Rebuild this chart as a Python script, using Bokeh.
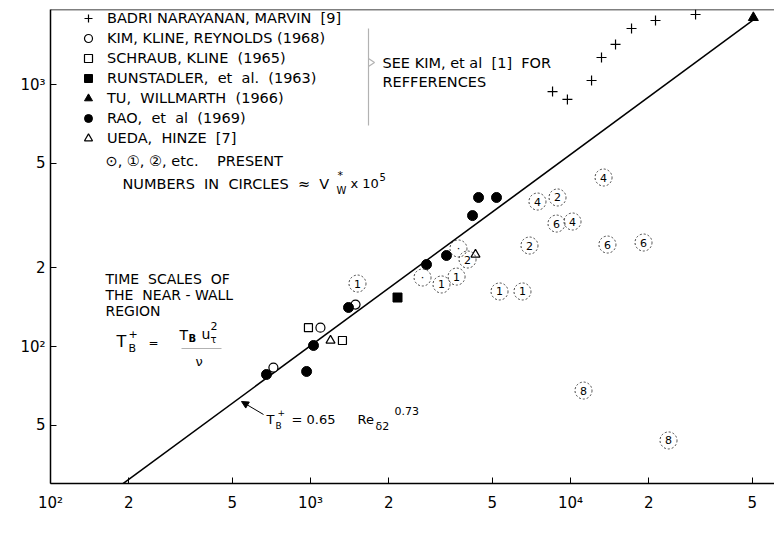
import math
from bokeh.plotting import figure
from bokeh.models import (Range1d, FixedTicker, Label, Legend, LegendItem, Span,
                          Arrow, NormalHead, ColumnDataSource, PolyAnnotation)
from bokeh.core.properties import value
from bokeh.embed import file_html
from bokeh.resources import INLINE

# ---------------- data (Re_delta2, T_B+) ----------------
badri_re = [8530, 9730, 12050, 13160, 14900, 17170, 21230, 30270]
badri_t = [940, 877, 1036, 1268, 1422, 1636, 1755, 1850]
kim_re = [720, 1092, 1490]
kim_t = [83.1, 118, 144.6]
schraub_re = [982, 1327]
schraub_t = [118, 105.4]
runst_re = [2161]
runst_t = [153.8]
tu_re = [50500]
tu_t = [1800]
rao_re = [677, 966, 1027, 1400, 2794, 3334, 4199, 4429, 5193]
rao_t = [78.2, 80.3, 100.9, 140.9, 205.6, 222.5, 316, 370.5, 370.5]
ueda_re = [1194, 4311]
ueda_t = [105.4, 224.4]
present_re = [1516, 2697, 3190, 3646, 3707, 4018, 5333, 6535, 6953, 7464,
              8913, 8833, 10180, 13400, 13870, 19090, 11220, 23820]
present_t = [173.9, 183.4, 172.5, 184.9, 236.6, 214.8, 162.2, 162.2, 242.9, 357.5,
             370.5, 294.6, 300, 441.6, 245, 249.4, 67.9, 43.8]
present_vw = ["1", "·", "1", "1", "·", "2", "1", "1", "2", "4",
              "2", "6", "4", "4", "6", "6", "8", "8"]
fit_coef = 0.65
fit_exp = 0.73
fit_re = [190, 50500]
fit_t = [fit_coef * r ** fit_exp for r in fit_re]

x_ticks = [100, 200, 500, 1000, 2000, 5000, 10000, 20000, 50000]
x_tick_labels = ["10²", "2", "5", "10³", "2", "5", "10⁴", "2", "5"]
y_ticks = [50, 100, 200, 500, 1000]
y_tick_labels = ["5", "10²", "2", "5", "10³"]

# ---------------- figure ----------------
FL, FR, FT, FB = 50, 774, 9, 483   # frame edges in canvas pixels
X0 = 100
X1 = 10 ** (2 + (FR - FL) / 260)
Y0 = 30
Y1 = 30 * 10 ** ((FB - FT) / 262)

FONT = "DejaVu Sans"
S2 = "\u00a0\u00a0"

p = figure(width=774, height=540, x_axis_type="log", y_axis_type="log",
           x_range=Range1d(X0, X1), y_range=Range1d(Y0, Y1),
           output_backend="svg", toolbar_location=None,
           min_border_left=FL, min_border_right=0,
           min_border_top=FT, min_border_bottom=540 - FB)
p.outline_line_color = None
p.grid.visible = False
p.background_fill_color = "white"

for ax, ticks, labels in ((p.xaxis[0], x_ticks, x_tick_labels),
                          (p.yaxis[0], y_ticks, y_tick_labels)):
    ax.ticker = FixedTicker(ticks=ticks)
    ax.major_label_overrides = {t: l for t, l in zip(ticks, labels)}
    ax.axis_line_width = 1.5
    ax.axis_line_color = "black"
    ax.major_tick_in = 6
    ax.major_tick_out = 0
    ax.major_tick_line_color = "black"
    ax.minor_tick_line_color = None
    ax.major_label_text_font = FONT
    ax.major_label_text_font_size = "15px"
    ax.major_label_text_color = "black"
p.xaxis.major_label_standoff = 10
p.yaxis.major_label_standoff = 5

p.add_layout(Span(location=Y1, dimension="width", line_color="black", line_width=1.5))

# helpers converting canvas-pixel positions into data positions (annotations only)
def dx(px):
    lx0, lx1 = math.log10(X0), math.log10(X1)
    return 10 ** (lx0 + (px - FL) / (FR - FL) * (lx1 - lx0))

def dy(py):
    ly0, ly1 = math.log10(Y0), math.log10(Y1)
    return 10 ** (ly0 + (FB - py) / (FB - FT) * (ly1 - ly0))

def lab(px, py, text, size=14.5, align="left", color="black", style="normal"):
    p.add_layout(Label(x=dx(px), y=dy(py), text=text, text_font=FONT,
                       text_font_size=f"{size}px", text_align=align,
                       text_baseline="middle", text_color=color,
                       text_font_style=style))

# ---------------- glyphs ----------------
p.line(fit_re, fit_t, line_color="black", line_width=1.5)

r_badri = p.scatter(badri_re, badri_t, marker="cross", size=10, line_color="black", line_width=1.2)
r_kim = p.scatter(kim_re, kim_t, marker="circle", size=9, line_color="black",
                  fill_color="white", line_width=1.2)
r_schraub = p.scatter(schraub_re, schraub_t, marker="square", size=8, line_color="black",
                      fill_color="white", line_width=1.2)
r_runst = p.scatter(runst_re, runst_t, marker="square", size=9, color="black")
r_tu = p.scatter(tu_re, tu_t, marker="triangle", size=10, color="black")
r_rao = p.scatter(rao_re, rao_t, marker="circle", size=10, color="black")
r_ueda = p.scatter(ueda_re, ueda_t, marker="triangle", size=9, line_color="black",
                   fill_color="white", line_width=1.2)

src = ColumnDataSource(dict(x=present_re, y=present_t, t=present_vw))
p.scatter("x", "y", source=src, marker="circle", size=17, fill_alpha=0,
          line_color="#444444", line_dash="2 2", line_width=1)
p.text("x", "y", text="t", source=src, text_font=value(FONT), text_font_size="11px",
       text_align="center", text_baseline="middle", text_color="black")

# ---------------- legend ----------------
legend = Legend(items=[
    LegendItem(label="BADRI NARAYANAN, MARVIN" + S2 + "[9]", renderers=[r_badri]),
    LegendItem(label="KIM, KLINE, REYNOLDS (1968)", renderers=[r_kim]),
    LegendItem(label="SCHRAUB, KLINE" + S2 + "(1965)", renderers=[r_schraub]),
    LegendItem(label="RUNSTADLER," + S2 + "et" + S2 + "al." + S2 + "(1963)", renderers=[r_runst]),
    LegendItem(label="TU," + S2 + "WILLMARTH" + S2 + "(1966)", renderers=[r_tu]),
    LegendItem(label="RAO," + S2 + "et" + S2 + "al" + S2 + "(1969)", renderers=[r_rao]),
    LegendItem(label="UEDA," + S2 + "HINZE" + S2 + "[7]", renderers=[r_ueda]),
], location=(28, 335), padding=0, margin=0, spacing=0, label_height=20,
    glyph_height=20, glyph_width=20, label_standoff=9, border_line_color=None,
    background_fill_alpha=0, label_text_font=FONT, label_text_font_size="14.5px",
    label_text_baseline="middle", label_text_color="black")
p.add_layout(legend)

lab(105, 160, "⊙, ①, ②, etc." + S2 + S2 + "PRESENT")
lab(122, 183, "NUMBERS" + S2 + "IN" + S2 + "CIRCLES" + S2 + "≈" + S2 + "V")
lab(336, 190, "W", size=10)
lab(337, 175, "*", size=11)
lab(350, 183, "x 10", size=13)
lab(379, 176, "5", size=10)

# bracket and note
p.add_layout(PolyAnnotation(
    xs=[dx(368), dx(368), dx(374), dx(368), dx(368)],
    ys=[dy(28), dy(58), dy(62), dy(66), dy(125)],
    fill_alpha=0, line_color="black", line_width=1.2))
lab(382, 62, "SEE KIM, et al" + S2 + "[1]" + S2 + "FOR")
lab(382, 81, "REFFERENCES")

# left description
lab(105, 278, "TIME" + S2 + "SCALES" + S2 + "OF", size=14)
lab(105, 294, "THE" + S2 + "NEAR\u00a0-\u00a0WALL", size=14)
lab(105, 310, "REGION", size=14)
lab(116, 341, "T", size=16)
lab(128, 333, "+", size=11)
lab(128, 348, "B", size=11)
lab(148, 342, "=", size=12)
lab(179, 334, "T", size=14)
lab(188, 338, "B", size=10, style="bold")
lab(201, 333, "u", size=14)
lab(210, 325, "2", size=11)
lab(210, 339, "τ", size=10)
p.add_layout(PolyAnnotation(xs=[dx(181), dx(221)], ys=[dy(348), dy(348)],
                            fill_alpha=0, line_color="black", line_width=1))
lab(195, 361, "ν", size=13)

# fit annotation
p.add_layout(Arrow(end=NormalHead(size=7, fill_color="black", line_color="black"),
                   x_start=dx(263), y_start=dy(414), x_end=dx(241), y_end=dy(401),
                   line_color="black", line_width=1))
lab(266, 419, "T", size=13)
lab(275, 425, "B", size=9)
lab(277, 412, "+", size=9)
lab(291, 419, "= 0.65", size=13)
lab(357, 419, "Re", size=13)
lab(375, 426, "δ2", size=11)
lab(394, 410, "0.73", size=11)

# axis titles
lab(11, 229, "T", size=18)
lab(27, 236, "B", size=11)
lab(28, 217, "+", size=13)
lab(347, 524, "Re", size=16)
lab(373, 533, "δ2", size=13)

open("out.html", "w").write(file_html(p, INLINE))
